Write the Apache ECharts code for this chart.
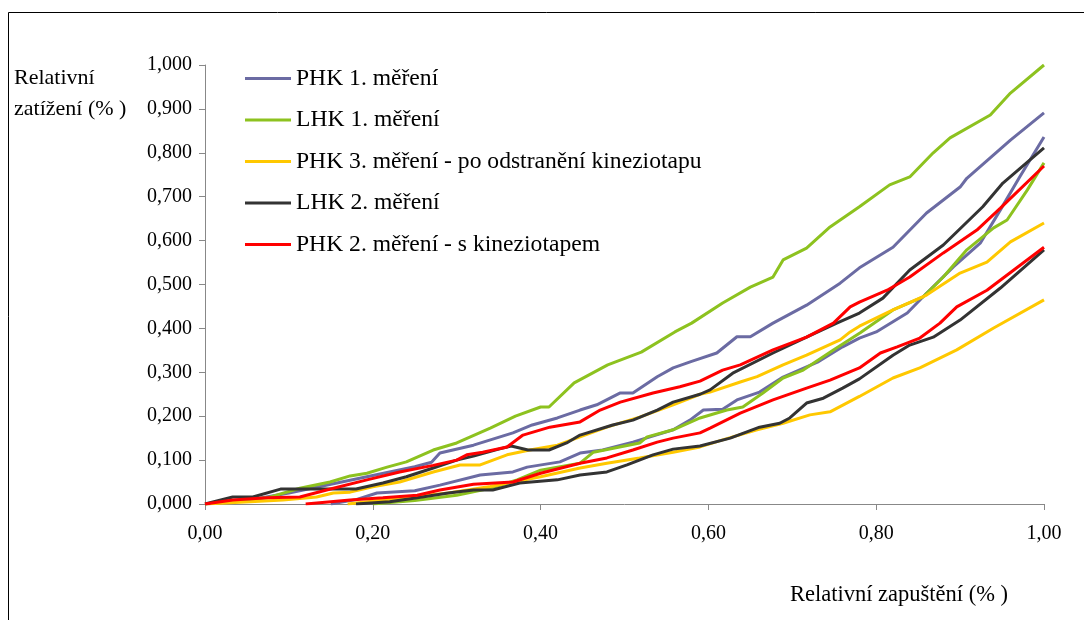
<!DOCTYPE html>
<html>
<head>
<meta charset="utf-8">
<script src="https://cdn.jsdelivr.net/npm/echarts@6/dist/echarts.min.js"></script>
<style>html,body{margin:0;padding:0;background:#fff;}#c{width:1084px;height:620px;}</style>
</head>
<body>
<div id="c"></div>
<script>
// ---- data (x = relative depth, y = relative load) ----
const seriesNames = ['PHK 1. měření','LHK 1. měření','PHK 3. měření - po odstranění kineziotapu','LHK 2. měření','PHK 2. měření - s kineziotapem'];
const seriesColors = ['#6B6BA3','#8DC21F','#FFC800','#333333','#FF0000'];
const xTicks = [0,0.2,0.4,0.6,0.8,1.0];
const yTicks = [0,0.1,0.2,0.3,0.4,0.5,0.6,0.7,0.8,0.9,1.0];

const phk1Up = [[0,0],[0.05,0.008],[0.1,0.025],[0.15,0.045],[0.2,0.065],[0.25,0.085],[0.27,0.095],[0.28,0.116],[0.32,0.134],[0.367,0.162],[0.39,0.18],[0.42,0.196],[0.447,0.214],[0.467,0.226],[0.495,0.253],[0.51,0.253],[0.539,0.29],[0.558,0.31],[0.58,0.325],[0.61,0.344],[0.634,0.381],[0.65,0.381],[0.677,0.412],[0.717,0.453],[0.757,0.503],[0.78,0.538],[0.82,0.585],[0.86,0.663],[0.9,0.722],[0.908,0.742],[0.96,0.829],[1.0,0.891]];
const phk1Down = [[0.15,0],[0.18,0.01],[0.205,0.025],[0.25,0.03],[0.28,0.043],[0.328,0.066],[0.367,0.073],[0.384,0.084],[0.423,0.096],[0.447,0.116],[0.474,0.123],[0.51,0.141],[0.558,0.169],[0.578,0.191],[0.594,0.214],[0.617,0.216],[0.634,0.237],[0.661,0.255],[0.689,0.289],[0.73,0.323],[0.76,0.358],[0.78,0.378],[0.8,0.392],[0.837,0.435],[0.86,0.48],[0.892,0.54],[0.924,0.594],[0.948,0.67],[0.971,0.745],[1.0,0.836]];
const lhk1Up = [[0,0],[0.074,0.014],[0.113,0.036],[0.149,0.05],[0.173,0.064],[0.193,0.07],[0.217,0.084],[0.24,0.096],[0.272,0.123],[0.30,0.139],[0.34,0.173],[0.37,0.2],[0.40,0.221],[0.41,0.221],[0.44,0.276],[0.48,0.317],[0.52,0.346],[0.56,0.392],[0.58,0.412],[0.617,0.458],[0.65,0.494],[0.677,0.517],[0.689,0.556],[0.717,0.583],[0.745,0.631],[0.78,0.677],[0.816,0.727],[0.84,0.745],[0.868,0.8],[0.888,0.834],[0.936,0.886],[0.96,0.936],[1.0,1.0]];
const lhk1Down = [[0.2,0],[0.25,0.008],[0.3,0.02],[0.34,0.036],[0.372,0.055],[0.40,0.077],[0.447,0.093],[0.463,0.118],[0.518,0.139],[0.527,0.153],[0.558,0.169],[0.59,0.196],[0.622,0.214],[0.641,0.221],[0.665,0.253],[0.689,0.287],[0.713,0.305],[0.749,0.351],[0.781,0.39],[0.82,0.442],[0.856,0.472],[0.88,0.517],[0.908,0.579],[0.94,0.629],[0.956,0.647],[0.98,0.715],[1.0,0.777]];
const phk3Up = [[0,0],[0.054,0.005],[0.093,0.009],[0.133,0.016],[0.153,0.025],[0.173,0.027],[0.2,0.039],[0.232,0.05],[0.272,0.073],[0.304,0.089],[0.328,0.089],[0.36,0.112],[0.387,0.123],[0.42,0.134],[0.447,0.153],[0.479,0.175],[0.518,0.198],[0.558,0.226],[0.59,0.25],[0.602,0.255],[0.638,0.278],[0.658,0.29],[0.689,0.317],[0.717,0.339],[0.757,0.374],[0.769,0.392],[0.78,0.405],[0.82,0.442],[0.86,0.476],[0.9,0.526],[0.932,0.551],[0.96,0.597],[1.0,0.64]];
const phk3Down = [[0.17,0],[0.212,0.009],[0.29,0.025],[0.34,0.04],[0.40,0.062],[0.447,0.082],[0.479,0.093],[0.518,0.105],[0.558,0.118],[0.59,0.13],[0.617,0.146],[0.658,0.169],[0.689,0.184],[0.721,0.203],[0.745,0.21],[0.78,0.245],[0.82,0.287],[0.852,0.31],[0.896,0.351],[0.94,0.401],[1.0,0.465]];
const lhk2Up = [[0,0],[0.033,0.016],[0.057,0.016],[0.09,0.034],[0.18,0.034],[0.212,0.048],[0.24,0.062],[0.272,0.082],[0.30,0.1],[0.32,0.109],[0.35,0.125],[0.365,0.132],[0.385,0.123],[0.41,0.123],[0.431,0.139],[0.447,0.157],[0.486,0.18],[0.51,0.191],[0.539,0.214],[0.558,0.232],[0.59,0.25],[0.602,0.26],[0.629,0.298],[0.677,0.344],[0.717,0.38],[0.753,0.412],[0.78,0.435],[0.808,0.469],[0.84,0.533],[0.88,0.59],[0.927,0.677],[0.951,0.731],[1.0,0.811]];
const lhk2Down = [[0.18,0],[0.22,0.005],[0.253,0.014],[0.29,0.025],[0.32,0.032],[0.343,0.032],[0.375,0.048],[0.42,0.055],[0.447,0.066],[0.479,0.073],[0.503,0.089],[0.534,0.112],[0.558,0.125],[0.59,0.132],[0.626,0.15],[0.661,0.175],[0.685,0.184],[0.697,0.196],[0.717,0.23],[0.737,0.241],[0.76,0.264],[0.78,0.285],[0.82,0.339],[0.84,0.362],[0.868,0.38],[0.9,0.419],[0.948,0.492],[1.0,0.579]];
const phk2Up = [[0,0],[0.033,0.009],[0.074,0.014],[0.113,0.016],[0.153,0.036],[0.193,0.055],[0.232,0.073],[0.272,0.088],[0.30,0.1],[0.312,0.112],[0.331,0.118],[0.36,0.13],[0.379,0.157],[0.411,0.175],[0.447,0.187],[0.471,0.214],[0.495,0.232],[0.534,0.253],[0.566,0.267],[0.59,0.28],[0.617,0.305],[0.638,0.317],[0.677,0.351],[0.717,0.38],[0.749,0.412],[0.769,0.449],[0.78,0.46],[0.813,0.487],[0.84,0.517],[0.88,0.572],[0.92,0.624],[0.948,0.674],[1.0,0.77]];
const phk2Down = [[0.12,0],[0.173,0.009],[0.212,0.014],[0.253,0.02],[0.28,0.032],[0.32,0.045],[0.367,0.05],[0.40,0.07],[0.447,0.093],[0.479,0.105],[0.51,0.123],[0.539,0.141],[0.558,0.15],[0.59,0.162],[0.602,0.173],[0.638,0.207],[0.677,0.237],[0.717,0.264],[0.745,0.282],[0.765,0.298],[0.78,0.31],[0.805,0.344],[0.825,0.358],[0.852,0.378],[0.876,0.412],[0.896,0.449],[0.932,0.487],[1.0,0.585]];

const curves = [
  [0, phk1Up],[0, phk1Down],
  [1, lhk1Up],[1, lhk1Down],
  [2, phk3Up],[2, phk3Down],
  [3, lhk2Up],[3, lhk2Down],
  [4, phk2Up],[4, phk2Down]
];

const FONT = '"Liberation Serif", "Times New Roman", serif';
const chart = echarts.init(document.getElementById('c'), null, {renderer: 'canvas'});
const series = curves.map(function (c) {
  return {
    type: 'line',
    name: seriesNames[c[0]],
    data: c[1],
    showSymbol: false,
    symbol: 'none',
    smooth: false,
    color: seriesColors[c[0]],
    lineStyle: {width: 3, color: seriesColors[c[0]]},
    emphasis: {disabled: true},
    z: 2
  };
});

chart.setOption({
  animation: false,
  backgroundColor: '#fff',
  grid: {left: 205, right: 40, top: 65, bottom: 116, containLabel: false},
  xAxis: {
    type: 'value', min: 0, max: 1, interval: 0.2,
    axisLine: {show: true, lineStyle: {color: '#888', width: 1}},
    axisTick: {show: true, length: 6, inside: false, lineStyle: {color: '#888'}},
    splitLine: {show: false},
    axisLabel: {margin: 20, color: '#000', fontFamily: FONT, fontSize: 20,
      formatter: function (v) { return v.toFixed(2).replace('.', ','); }}
  },
  yAxis: {
    type: 'value', min: 0, max: 1, interval: 0.1,
    axisLine: {show: true, lineStyle: {color: '#888', width: 1}},
    axisTick: {show: true, length: 6, inside: false, lineStyle: {color: '#888'}},
    splitLine: {show: false},
    axisLabel: {margin: 13, color: '#000', fontFamily: FONT, fontSize: 20,
      formatter: function (v) { return v.toFixed(3).replace('.', ','); }}
  },
  legend: {
    data: seriesNames,
    orient: 'vertical',
    left: 245, top: 66.5, padding: 0,
    itemWidth: 46, itemHeight: 3, itemGap: 17.5,
    icon: 'rect',
    selectedMode: false,
    textStyle: {fontFamily: FONT, fontSize: 23.6, color: '#000'}
  },
  graphic: [
    {type: 'rect', shape: {x: 8.5, y: 12.5, width: 1100, height: 700},
     style: {fill: 'none', stroke: '#000', lineWidth: 1}, silent: true, z: -1},
    {type: 'text', left: 14, top: 63,
     style: {text: 'Relativní\nzatížení (% )', fontFamily: FONT, fontSize: 22, lineHeight: 31, fill: '#000'}},
    {type: 'text', left: 790, top: 584,
     style: {text: 'Relativní zapuštění (% )', fontFamily: FONT, fontSize: 22.5, fill: '#000'}}
  ],
  series: series
});
</script>
</body>
</html>
